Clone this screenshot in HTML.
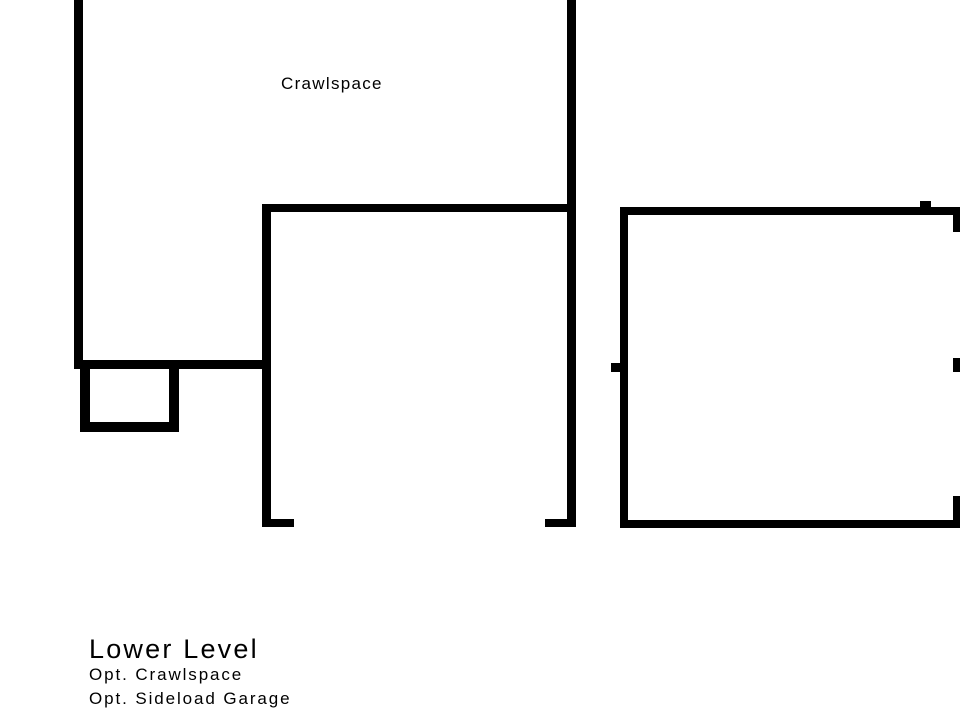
<!DOCTYPE html>
<html><head><style>
body{margin:0;width:960px;height:720px;background:#fff;overflow:hidden;position:relative;font-family:"Liberation Sans",sans-serif;}
.b{position:absolute;background:#000;}
.t{position:absolute;color:#000;white-space:nowrap;}
</style></head><body>
<!-- left crawlspace -->
<div class="b" style="left:74px;top:0;width:9px;height:369px"></div>
<div class="b" style="left:74px;top:360px;width:197px;height:9px"></div>
<div class="b" style="left:80px;top:369px;width:10px;height:63px"></div>
<div class="b" style="left:169px;top:369px;width:10px;height:63px"></div>
<div class="b" style="left:80px;top:422px;width:99px;height:10px"></div>
<!-- middle room -->
<div class="b" style="left:262px;top:204px;width:314px;height:8px"></div>
<div class="b" style="left:262px;top:204px;width:9px;height:323px"></div>
<div class="b" style="left:567px;top:0;width:9px;height:527px"></div>
<div class="b" style="left:262px;top:519px;width:32px;height:8px"></div>
<div class="b" style="left:545px;top:519px;width:31px;height:8px"></div>
<!-- garage -->
<div class="b" style="left:620px;top:207px;width:340px;height:8px"></div>
<div class="b" style="left:620px;top:207px;width:8px;height:321px"></div>
<div class="b" style="left:620px;top:520px;width:340px;height:8px"></div>
<div class="b" style="left:920px;top:201px;width:11px;height:8px"></div>
<div class="b" style="left:611px;top:363px;width:10px;height:9px"></div>
<div class="b" style="left:953px;top:213px;width:7px;height:19px"></div>
<div class="b" style="left:953px;top:358px;width:7px;height:14px"></div>
<div class="b" style="left:953px;top:496px;width:7px;height:26px"></div>
<!-- text -->
<div class="t" style="left:281px;top:74px;font-size:17px;letter-spacing:1.3px">Crawlspace</div>
<div class="t" style="left:89px;top:634px;font-size:27px;letter-spacing:2.2px;line-height:30px">Lower Level</div>
<div class="t" style="left:89px;top:665px;font-size:17px;letter-spacing:1.9px;line-height:20px">Opt. Crawlspace</div>
<div class="t" style="left:89px;top:689px;font-size:17px;letter-spacing:1.9px;line-height:20px">Opt. Sideload Garage</div>
</body></html>
